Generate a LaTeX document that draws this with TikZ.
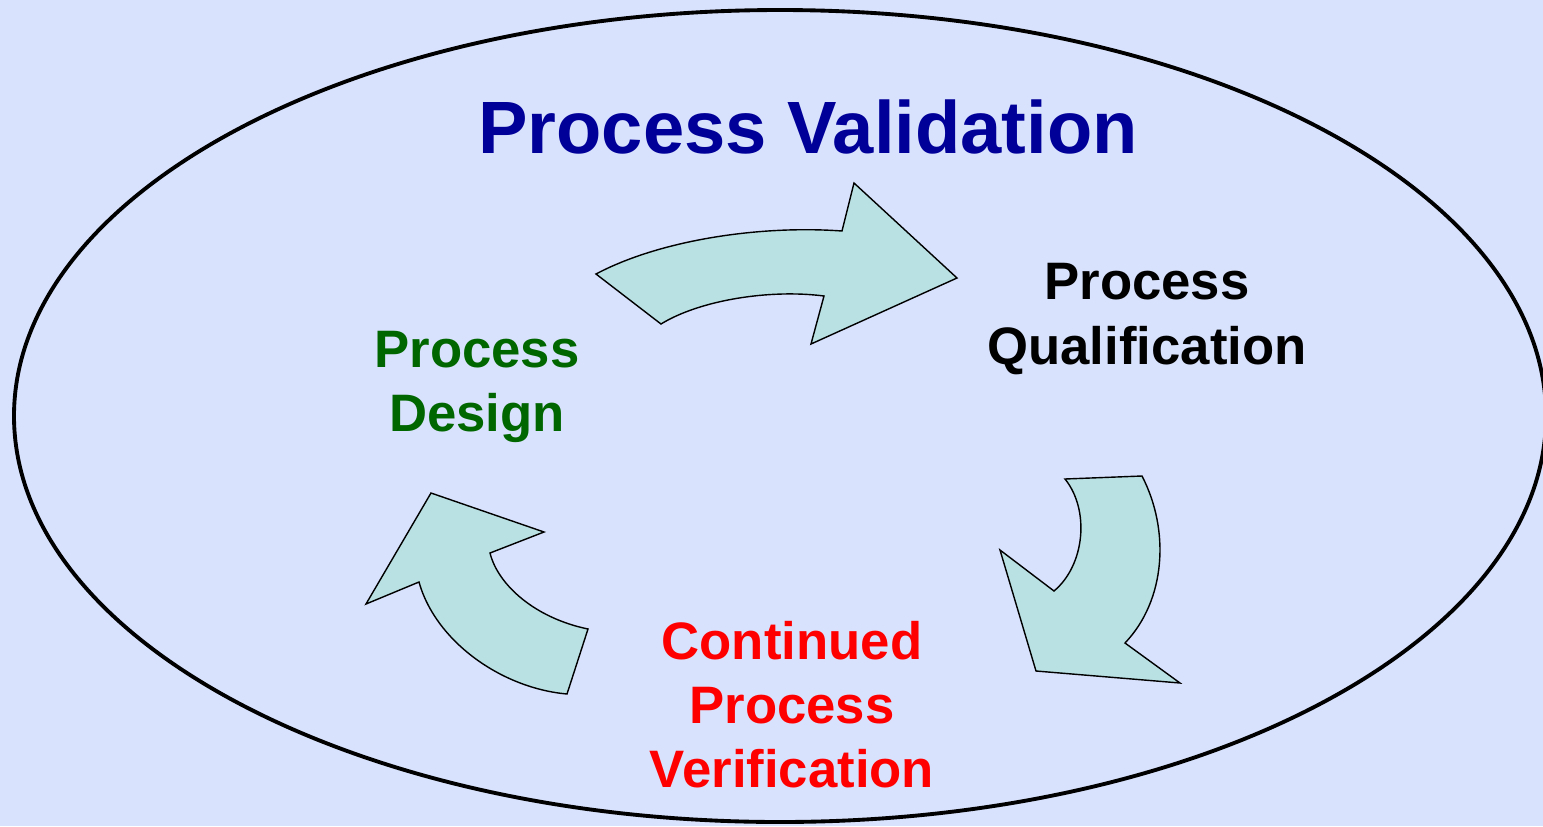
\documentclass[tikz,border=0pt]{standalone}
\usepackage{fontspec}
\setmainfont{Liberation Sans}
\usepackage{tikz}

\definecolor{bgblue}{RGB}{217,226,252}
\definecolor{arrowfill}{RGB}{185,224,227}
\definecolor{titleblue}{RGB}{0,0,153}
\definecolor{designgreen}{RGB}{0,102,0}

\begin{document}
\begin{tikzpicture}[x=0.02cm, y=-0.02cm,
		lbl/.style={font=\fontsize{30}{36.5}\selectfont\bfseries, align=center, inner sep=0pt},
		bigarrow/.style={draw, fill=arrowfill, line width=0.8pt, line join=miter}]
		\fill[bgblue] (0,0) rectangle (1543,826);
		\useasboundingbox (0,0) rectangle (1543,826);
		\draw[line width=2.2pt] (780,416) ellipse [x radius=766, y radius=406];

		\node[lbl, font=\fontsize{42.2}{50}\selectfont\bfseries] (pv) at (808,127) [text=titleblue] {Process Validation};

		\node[lbl] (pd) at (477,387) [text=designgreen] {Process\\Design};
		\node[lbl] (pq) at (1147,319) {Process\\Qualification};
		\node[lbl] (cpv) at (792,705) [text=red] {Continued\\Process\\Verification};

		\draw[bigarrow] (596,274) .. controls (660,240) and (760,225) .. (842,231) -- (854,183) -- (957,278)
			-- (811,344) -- (824,296) .. controls (770,289) and (700,300) .. (661,324) -- cycle;
		\draw[bigarrow] (1065,479) -- (1142,476) .. controls (1170,530) and (1166,600) .. (1125,643) -- (1180,683)
			-- (1036,671) -- (1000,550) -- (1054,591) .. controls (1085,565) and (1090,510) .. (1065,479) -- cycle;
		\draw[bigarrow] (431,493) -- (544,532) -- (490,553) .. controls (498,585) and (535,618) .. (588,629)
			-- (567,694) .. controls (500,688) and (435,640) .. (419,582) -- (366,604) -- cycle;
\end{tikzpicture}
\end{document}
